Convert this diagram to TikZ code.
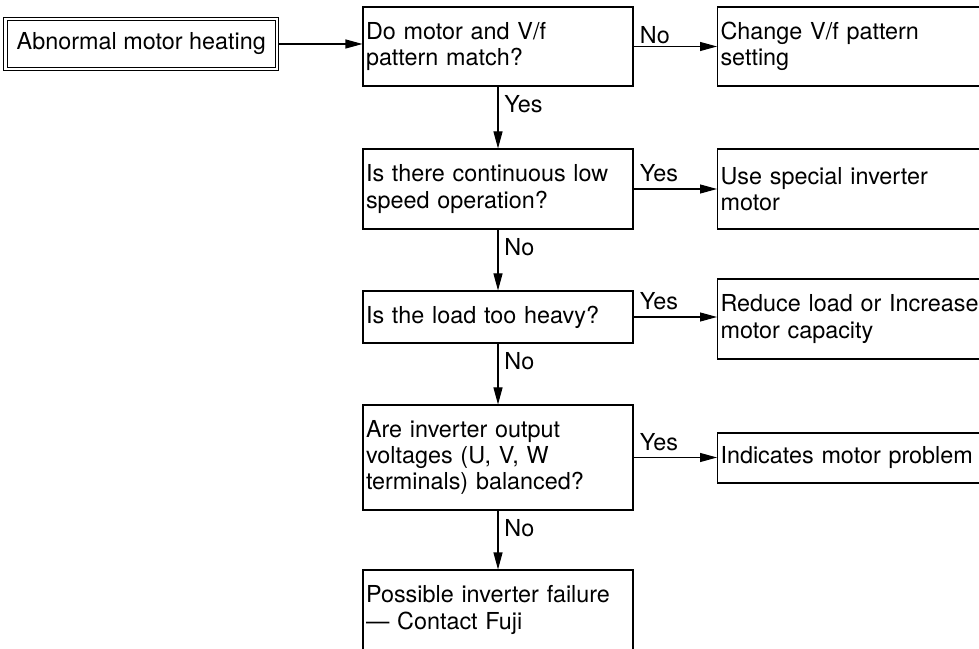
\documentclass[tikz,border=0pt]{standalone}
\usepackage{fontspec}
\setmainfont{TeX Gyre Heros}
\usetikzlibrary{arrows.meta}

\begin{document}
\begin{tikzpicture}[
  font=\fontsize{13.3pt}{15pt}\selectfont,
  >={Triangle[length=3.4mm, width=1.8mm]},
  box/.style={draw=black, line width=0.6pt, align=left,
              text width=5.28cm, inner xsep=0.06cm, inner ysep=0pt,
              minimum height=1.6cm},
  rbox/.style={box, text width=5.6cm, anchor=west},
  flow/.style={->, draw=black, line width=0.6pt},
  vtag/.style={pos=0, anchor=west, yshift=-0.36cm},
  htag/.style={pos=0, anchor=west, yshift=0.31cm},
]
\useasboundingbox (0,0) rectangle (19.58,12.96);

% ---- Start -------------------------------------------------------------
\node[draw=black, line width=0.6pt, double, double distance=1.4pt,
      outer sep=1.3pt, minimum width=5.43cm, minimum height=1.0cm]
      (start) at (2.825,12.08) {Abnormal motor heating};

% ---- Checks (left column) ----------------------------------------------
\node[box, minimum height=1.58cm] (q1) at (9.96,12.03)
  {Do motor and V/f\\ pattern match?};
\node[box] (q2) at (9.96,9.18)
  {Is there continuous low\\ speed operation?};
\node[box, minimum height=1.04cm] (q3) at (9.96,6.62)
  {Is the load too heavy?};
\node[box, minimum height=2.1cm] (q4) at (9.96,3.81)
  {Are inverter output\\ voltages (U, V, W\\ terminals) balanced?};
\node[box] (q5) at (9.96,0.76)
  {Possible inverter failure\\ — Contact Fuji};

% ---- Remedies (right column, runs off the page edge) -------------------
\node[rbox, minimum height=1.58cm] (r1) at (14.34,12.03)
  {Change V/f pattern\\ setting};
\node[rbox] (r2) at (14.34,9.18)
  {Use special inverter\\ motor};
\node[rbox] (r3) at (14.34,6.58)
  {Reduce load or Increase\\ motor capacity};
\node[rbox, minimum height=1.0cm] (r4) at (14.34,3.80)
  {Indicates motor problem};

% ---- Connectors --------------------------------------------------------
\draw[flow] (start.east) -- (start.east -| q1.west);

\draw[flow] (q1) -- node[vtag] {Yes} (q2);
\draw[flow] (q2) -- node[vtag] {No} (q3);
\draw[flow] (q3) -- node[vtag] {No} (q4);
\draw[flow] (q4) -- node[vtag] {No} (q5);

\draw[flow] (q1.east) -- node[htag, yshift=-0.09cm] {No} (q1.east -| r1.west);
\draw[flow] (q2.east) -- node[htag] {Yes} (q2.east -| r2.west);
\draw[flow] (q3.east) -- node[htag] {Yes} (q3.east -| r3.west);
\draw[flow] (q4.east) -- node[htag] {Yes} (q4.east -| r4.west);

\end{tikzpicture}
\end{document}
